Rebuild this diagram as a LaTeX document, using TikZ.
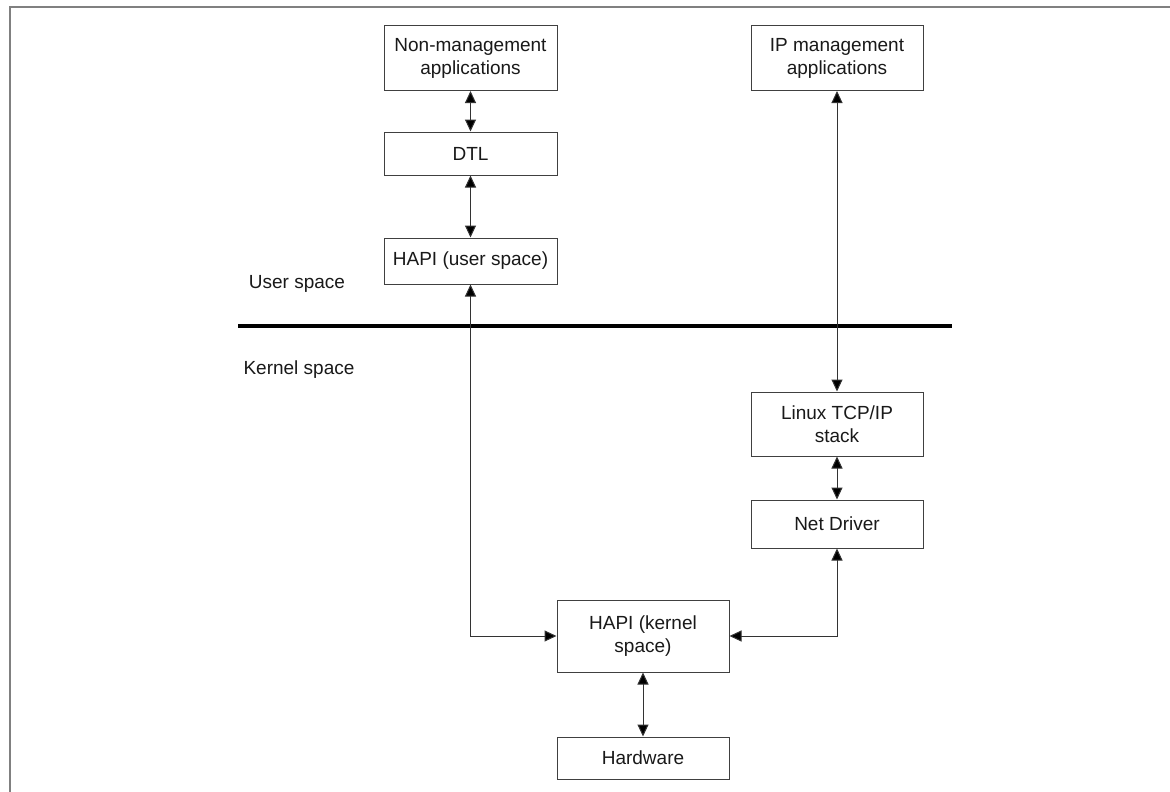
\documentclass[tikz,border=0pt]{standalone}
\usepackage{fontspec}
\setmainfont{Liberation Sans}
\usetikzlibrary{arrows.meta}
\begin{document}
\begin{tikzpicture}[x=1pt,y=-1pt,
  blk/.style={draw=black!75,line width=1pt,fill=white,inner sep=0pt,align=center,
    font=\fontsize{19}{23}\selectfont,text=black!90},
  link/.style={line width=1pt,draw=black!80,
    {Triangle[length=12pt,width=11pt,fill=black]}-{Triangle[length=12pt,width=11pt,fill=black]}},
  lbl/.style={font=\fontsize{19}{23}\selectfont,text=black!90,inner sep=0pt}]
\useasboundingbox (0,0) rectangle (1170,792);
% outer frame (only top and left edges fall inside the page)
\draw[black!50,line width=2pt] (10,792) -- (10,7) -- (1170,7);

% boxes: centre, width, height
\node[blk,minimum width=173pt,minimum height=65pt] (nonmgmt) at (470.5,58) {Non-management\\applications};
\node[blk,minimum width=173pt,minimum height=43pt] (dtl) at (470.5,153.5) {DTL};
\node[blk,minimum width=173pt,minimum height=46pt] (hapiu) at (470.5,261) {HAPI (user space)};
\node[blk,minimum width=172pt,minimum height=65pt] (ipmgmt) at (837,58) {IP management\\applications};
\node[blk,minimum width=172pt,minimum height=64pt] (tcpip) at (837,424) {Linux TCP/IP\\stack};
\node[blk,minimum width=172pt,minimum height=48pt] (netdrv) at (837,524) {Net Driver};
\node[blk,minimum width=172pt,minimum height=72pt] (hapik) at (643,636) {HAPI (kernel\\space)};
\node[blk,minimum width=172pt,minimum height=42pt] (hw) at (643,758) {Hardware};

% user/kernel boundary
\draw[line width=4pt,black] (238,326) -- (952,326);
\node[lbl] (uspace) at (297,284) {User space};
\node[lbl] (kspace) at (299,370) {Kernel space};

% connectors
\draw[link] (nonmgmt.south) -- (dtl.north);
\draw[link] (dtl.south) -- (hapiu.north);
\draw[link] (hapiu.south) |- (hapik.west);
\draw[link] (ipmgmt.south) -- (tcpip.north);
\draw[link] (tcpip.south) -- (netdrv.north);
\draw[link] (netdrv.south) |- (hapik.east);
\draw[link] (hapik.south) -- (hw.north);
\end{tikzpicture}
\end{document}
